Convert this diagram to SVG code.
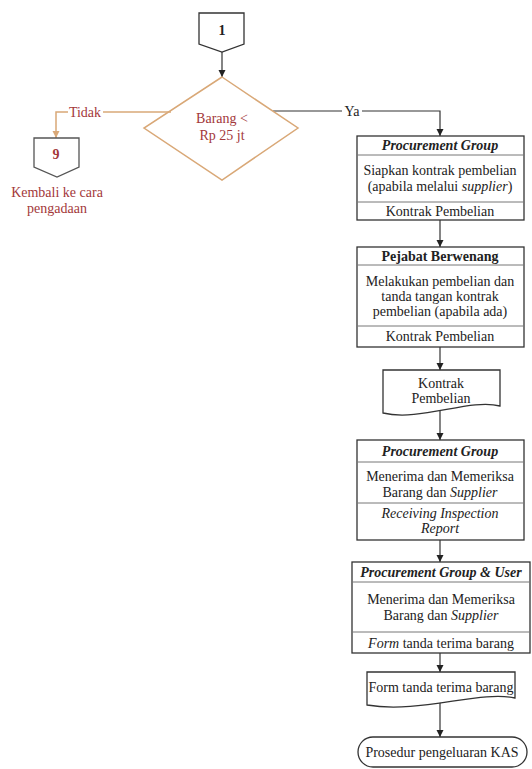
<svg xmlns="http://www.w3.org/2000/svg" width="532" height="769" viewBox="0 0 532 769">
<style>
text{font-family:"Liberation Serif","Tinos","Times New Roman","DejaVu Serif",serif;font-size:14px;fill:#222;text-anchor:middle}
.red{fill:#a3383a}
.t{font-weight:bold;font-style:italic}
.b{font-weight:bold}
.i{font-style:italic}
.box{fill:#fff;stroke:#333;stroke-width:1.3}
.sep{stroke:#777;stroke-width:1}
.ln{fill:none;stroke:#333;stroke-width:1.2}
.ol{fill:none;stroke:#d9a877;stroke-width:1.5}
</style>
<defs>
<marker id="ah" markerUnits="userSpaceOnUse" markerWidth="8" markerHeight="8" refX="7" refY="4" orient="auto"><path d="M0,0.5 L7,4 L0,7.5 Z" fill="#222"/></marker>
<marker id="ao" markerUnits="userSpaceOnUse" markerWidth="8" markerHeight="8" refX="7" refY="4" orient="auto"><path d="M0,0.5 L7,4 L0,7.5 Z" fill="#d9a877"/></marker>
</defs>
<g id="connectors">
<path class="ln" d="M222,52 V77" marker-end="url(#ah)"/>
<path class="ln" d="M273,111 H342"/>
<path class="ln" d="M362,111 H440 V136" marker-end="url(#ah)"/>
<path class="ol" d="M171,112 H103"/>
<path class="ol" d="M68,112 H56 V138" marker-end="url(#ao)"/>
<path class="ln" d="M440,220 V247" marker-end="url(#ah)"/>
<path class="ln" d="M440,347 V370" marker-end="url(#ah)"/>
<path class="ln" d="M440,411 V440" marker-end="url(#ah)"/>
<path class="ln" d="M440,540 V562" marker-end="url(#ah)"/>
<path class="ln" d="M440,653 V672" marker-end="url(#ah)"/>
<path class="ln" d="M440,702 V737" marker-end="url(#ah)"/>
<text x="352" y="116">Ya</text>
<text class="red" x="85" y="117">Tidak</text>
</g>
<g id="c1">
<path class="box" d="M199,13 H244 V44 L222,52 L199,44 Z"/>
<text class="b" x="222" y="35">1</text>
</g>
<g id="decision">
<path class="ol" d="M222,77 L298,128 L222,180 L144,128 Z"/>
<text class="red" x="222" y="123">Barang &lt;</text>
<text class="red" x="222" y="140">Rp 25 jt</text>
</g>
<g id="c9">
<path class="box" style="stroke:#555" d="M34,138 H79 V167 L57,177 L34,167 Z"/>
<text class="b red" x="56" y="159">9</text>
<text class="red" x="57" y="197">Kembali ke cara</text>
<text class="red" x="57" y="213">pengadaan</text>
</g>
<g id="box1">
<rect class="box" x="357" y="136" width="167" height="84"/>
<line class="sep" x1="357" y1="155" x2="524" y2="155"/>
<line class="sep" x1="357" y1="202" x2="524" y2="202"/>
<text class="t" x="440" y="150">Procurement Group</text>
<text x="440" y="175">Siapkan kontrak pembelian</text>
<text x="440" y="191">(apabila melalui <tspan class="i">supplier</tspan>)</text>
<text x="440" y="216">Kontrak Pembelian</text>
</g>
<g id="box2">
<rect class="box" x="357" y="247" width="167" height="100"/>
<line class="sep" x1="357" y1="265" x2="524" y2="265"/>
<line class="sep" x1="357" y1="326" x2="524" y2="326"/>
<text class="b" x="440" y="261">Pejabat Berwenang</text>
<text x="440" y="286">Melakukan pembelian dan</text>
<text x="440" y="301">tanda tangan kontrak</text>
<text x="440" y="316">pembelian (apabila ada)</text>
<text x="440" y="341">Kontrak Pembelian</text>
</g>
<g id="doc1">
<path class="box" d="M383,370 H500 V406 C470,398 420,422 383,413 Z"/>
<text x="441" y="388">Kontrak</text>
<text x="441" y="403">Pembelian</text>
</g>
<g id="box3">
<rect class="box" x="357" y="440" width="167" height="100"/>
<line class="sep" x1="357" y1="462" x2="524" y2="462"/>
<line class="sep" x1="357" y1="503" x2="524" y2="503"/>
<text class="t" x="440" y="456">Procurement Group</text>
<text x="440" y="481">Menerima dan Memeriksa</text>
<text x="440" y="497">Barang dan <tspan class="i">Supplier</tspan></text>
<text class="i" x="440" y="518">Receiving Inspection</text>
<text class="i" x="440" y="533">Report</text>
</g>
<g id="box4">
<rect class="box" x="352" y="562" width="178" height="91"/>
<line class="sep" x1="352" y1="582" x2="530" y2="582"/>
<line class="sep" x1="352" y1="632" x2="530" y2="632"/>
<text class="t" x="441" y="577">Procurement Group &amp; User</text>
<text x="441" y="604">Menerima dan Memeriksa</text>
<text x="441" y="620">Barang dan <tspan class="i">Supplier</tspan></text>
<text x="441" y="648"><tspan class="i">Form</tspan> tanda terima barang</text>
</g>
<g id="doc2">
<path class="box" d="M367,672 H515 V698 C480,690 420,714 367,705 Z"/>
<text x="441" y="692">Form tanda terima barang</text>
</g>
<g id="terminal">
<rect class="box" x="358" y="737" width="169" height="30" rx="15" ry="15"/>
<text x="442" y="757">Prosedur pengeluaran KAS</text>
</g>
</svg>
